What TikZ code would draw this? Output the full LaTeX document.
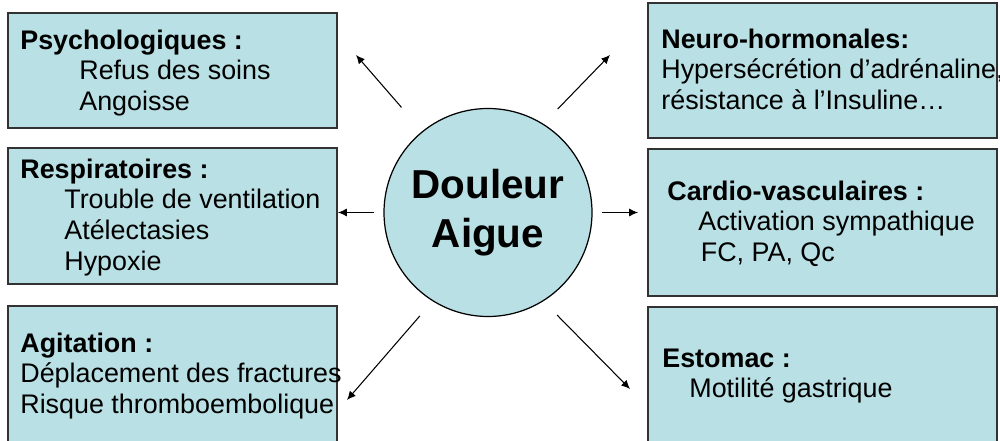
\documentclass[tikz,border=0pt]{standalone}
\usepackage{fontspec}
\setmainfont{Liberation Sans}
\usepackage{xcolor}
\usetikzlibrary{arrows.meta, calc, positioning}
\definecolor{bleuclair}{RGB}{185,224,228}
\definecolor{bord}{RGB}{50,50,50}
\tikzset{
	cadre/.style={rectangle, draw=bord, line width=1pt, fill=bleuclair, inner sep=0pt},
	texte/.style={anchor=north west, align=left, inner sep=0pt, font=\fontsize{15.3}{17.4}\selectfont},
	centre/.style={circle, draw=black, line width=0.7pt, fill=bleuclair, minimum size=4.16cm,
		inner sep=0pt, align=center, font=\fontsize{23}{28}\selectfont\bfseries},
	fleche/.style={draw, line width=0.6pt, -{Latex[length=5pt,width=4.5pt]}}
}

\begin{document}
\begin{tikzpicture}[x=0.2mm, y=-0.2mm]
	% Page frame (1 unit = 1 pixel of the slide)
	\useasboundingbox (0,0) rectangle (1000,441);
	
	% Left column of boxes
	\node[cadre, minimum width=6.58cm, minimum height=2.3cm] (psy) at (172.5,70.5) {};
	\node[cadre, minimum width=6.58cm, minimum height=2.72cm] (res) at (172.5,216) {};
	\node[cadre, minimum width=6.58cm, minimum height=2.84cm] (agi) at (172.5,377) {};
	
	% Right column of boxes
	\node[cadre, minimum width=6.98cm, minimum height=2.7cm] (neu) at (822.5,70.5) {};
	\node[cadre, minimum width=6.98cm, minimum height=2.94cm] (car) at (822.5,222.5) {};
	\node[cadre, minimum width=6.98cm, minimum height=2.82cm] (est) at (822.5,377.5) {};
	
	% Texts of the boxes
	\node[texte] (psyT) at (20,29.5) {\textbf{Psychologiques :}\\
		\hspace*{1.18cm}Refus des soins\\
		\hspace*{1.18cm}Angoisse};
	\node[texte] (resT) at (20,158.5) {\textbf{Respiratoires :}\\
		\hspace*{0.88cm}Trouble de ventilation\\
		\hspace*{0.88cm}Atélectasies\\
		\hspace*{0.88cm}Hypoxie};
	\node[texte] (agiT) at (20,332.5) {\textbf{Agitation :}\\
		Déplacement des fractures\\
		Risque thromboembolique};
	\node[texte] (neuT) at (661,28.5) {\textbf{Neuro-hormonales:}\\
		Hypersécrétion d’adrénaline,\\
		résistance à l’Insuline…};
	\node[texte] (carT) at (667,180.5) {\textbf{Cardio-vasculaires :}\\
		\hspace*{0.62cm}Activation sympathique\\
		\hspace*{0.67cm}FC, PA, Qc};
	\node[texte] (estT) at (662,348.5) {\textbf{Estomac :}\\
		\hspace*{0.54cm}Motilité gastrique};
	
	% Central circle
	\node[centre] (pain) at (488,212.5) {Douleur\\Aigue};
	
	% Free ends of the arrows
	\coordinate (tipPsy) at (356,55);
	\coordinate (tipNeu) at (610,55);
	\coordinate (tipRes) at (338,212.5);
	\coordinate (tipCar) at (638,212.5);
	\coordinate (tipAgi) at (347,400);
	\coordinate (tipEst) at (630,389);
	
	% Arrows leaving the circle
	\draw[fleche, shorten <=0.63cm] (pain.129) -- (tipPsy);
	\draw[fleche, shorten <=0.41cm] (pain.58) -- (tipNeu);
	\draw[fleche, shorten <=0.18cm] (pain.west) -- (tipRes);
	\draw[fleche, shorten <=0.18cm] (pain.east) -- (tipCar);
	\draw[fleche, shorten <=0.39cm] (pain.-122) -- (tipAgi);
	\draw[fleche, shorten <=0.39cm] (pain.-58) -- (tipEst);
\end{tikzpicture}
\end{document}
